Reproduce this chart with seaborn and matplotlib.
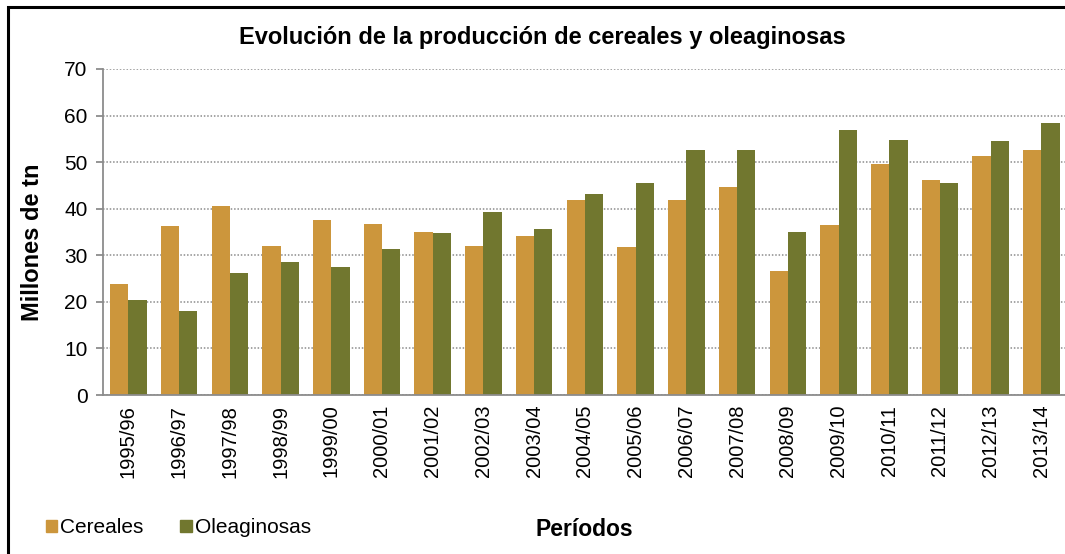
import pandas as pd
import matplotlib.pyplot as plt
import seaborn as sns
from matplotlib.patches import Rectangle

periodos = ["1995/96", "1996/97", "1997/98", "1998/99", "1999/00", "2000/01",
            "2001/02", "2002/03", "2003/04", "2004/05", "2005/06", "2006/07",
            "2007/08", "2008/09", "2009/10", "2010/11", "2011/12", "2012/13",
            "2013/14"]
cereales = [23.9, 36.2, 40.6, 31.9, 37.5, 36.7, 34.9, 31.9, 34.2, 41.9,
            31.7, 41.8, 44.7, 26.7, 36.6, 49.7, 46.2, 51.3, 52.7]
oleaginosas = [20.3, 18.1, 26.3, 28.6, 27.5, 31.4, 34.8, 39.2, 35.6, 43.2,
               45.5, 52.7, 52.5, 35.0, 56.8, 54.8, 45.5, 54.5, 58.3]

colores = {"Cereales": "#CC963C", "Oleaginosas": "#71772F"}

df = pd.DataFrame({
    "Periodo": periodos * 2,
    "Serie": ["Cereales"] * len(periodos) + ["Oleaginosas"] * len(periodos),
    "Valor": cereales + oleaginosas,
})

sns.set_style("white")
plt.rcParams["font.family"] = ["Liberation Sans", "DejaVu Sans"]
plt.rcParams["text.color"] = "black"
plt.rcParams["axes.labelcolor"] = "black"
plt.rcParams["xtick.color"] = "black"
plt.rcParams["ytick.color"] = "black"

fig = plt.figure(figsize=(10.65, 5.54), dpi=100)
ax = fig.add_axes([0.0967, 0.287, 0.905, 0.5885])

sns.barplot(data=df, x="Periodo", y="Valor", hue="Serie", palette=colores,
            width=0.72, gap=0, saturation=1, ax=ax, edgecolor="none",
            legend=False)

ax.set_ylim(0, 70)
ax.set_yticks(range(0, 71, 10))
ax.set_xlim(-0.5, len(periodos) - 0.5)
ax.yaxis.grid(True, linestyle=(0, (1, 1.2)), color="#8c8c8c", linewidth=1.1)
ax.set_axisbelow(True)

for s in ["top", "right"]:
    ax.spines[s].set_visible(False)
for s in ["left", "bottom"]:
    ax.spines[s].set_color("#8c8c8c")
    ax.spines[s].set_linewidth(1.3)

# ticks de x entre categorias
ax.set_xticks([i for i in range(len(periodos))])
ax.set_xticklabels(periodos, rotation=90, fontsize=14.5)
ax.tick_params(axis="x", length=0, pad=7)
ax.set_xticks([i - 0.5 for i in range(len(periodos) + 1)], minor=True)
ax.tick_params(axis="x", which="minor", length=5, color="#8c8c8c", width=1.3)
ax.tick_params(axis="y", labelsize=15, length=5, color="#8c8c8c", width=1.3,
               labelcolor="black", left=True, pad=6)

ax.set_xlabel("")
ax.set_ylabel("Millones de tn", fontsize=17, fontweight="bold", color="black")
ax.yaxis.set_label_coords(-0.061, 0.47)

fig.text(0.509, 0.933, "Evolución de la producción de cereales y oleaginosas",
         ha="center", va="center", fontsize=17, fontweight="bold")
fig.text(0.549, 0.045, "Períodos", ha="center", va="center",
         fontsize=16.5, fontweight="bold")

# leyenda manual abajo a la izquierda
handles = [Rectangle((0, 0), 1, 1, color=colores[k]) for k in colores]
fig.legend(handles, list(colores.keys()), loc="center left",
           bbox_to_anchor=(0.043, 0.047), ncol=2, frameon=False, fontsize=15,
           handlelength=0.55, handleheight=0.55, handletextpad=0.15,
           columnspacing=1.75, borderpad=0, borderaxespad=0)

# marco exterior del grafico
fig.patches.append(Rectangle((0.0075, -0.1), 1.2, 1.087, transform=fig.transFigure,
                             fill=False, edgecolor="black", linewidth=2.2))

fig.savefig("out.png", dpi=100)
